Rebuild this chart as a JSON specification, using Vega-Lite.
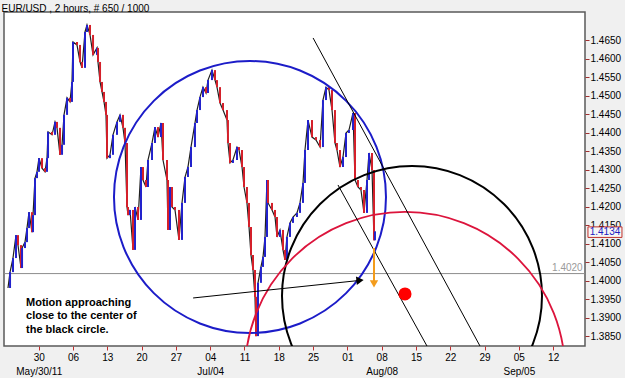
{
  "$schema": "https://vega.github.io/schema/vega-lite/v6.json",
  "width": 581,
  "height": 334,
  "autosize": {"type": "none"},
  "padding": {"left": 4, "top": 12, "right": 40, "bottom": 32},
  "background": "#f0f0f0",
  "title": {"text": "EUR/USD , 2 hours, # 650 / 1000", "anchor": "start", "fontSize": 10, "fontWeight": "normal", "font": "Liberation Sans", "color": "#000000", "offset": -2, "dx": -2},
  "config": {
    "view": {"fill": "white", "stroke": "#5a5a5a", "strokeWidth": 1.5},
    "font": "Liberation Sans"
  },
  "datasets": {
    "price": [
      {"t": -4.48, "p": 1.3981}, {"t": -4.18, "p": 1.4024}, {"t": -3.75, "p": 1.4062}, {"t": -3.31, "p": 1.4124},
      {"t": -3.02, "p": 1.4097}, {"t": -2.58, "p": 1.4035}, {"t": -2.43, "p": 1.4089}, {"t": -2.0, "p": 1.4105},
      {"t": -1.71, "p": 1.4143}, {"t": -1.41, "p": 1.4186}, {"t": -0.98, "p": 1.4132}, {"t": -0.83, "p": 1.4178},
      {"t": -0.54, "p": 1.4278}, {"t": -0.25, "p": 1.4295}, {"t": 0.04, "p": 1.4332}, {"t": 0.48, "p": 1.4305},
      {"t": 0.92, "p": 1.4295}, {"t": 1.21, "p": 1.4332}, {"t": 1.36, "p": 1.4403}, {"t": 1.94, "p": 1.4395},
      {"t": 2.38, "p": 1.443}, {"t": 2.67, "p": 1.4414}, {"t": 3.1, "p": 1.4341}, {"t": 3.4, "p": 1.4368},
      {"t": 3.69, "p": 1.4449}, {"t": 4.13, "p": 1.4495}, {"t": 4.56, "p": 1.4484}, {"t": 4.85, "p": 1.4538},
      {"t": 5.0, "p": 1.4646}, {"t": 5.58, "p": 1.4638}, {"t": 6.02, "p": 1.4592}, {"t": 6.31, "p": 1.4576},
      {"t": 6.75, "p": 1.4673}, {"t": 7.04, "p": 1.4692}, {"t": 7.48, "p": 1.4665}, {"t": 7.92, "p": 1.4611},
      {"t": 8.5, "p": 1.463}, {"t": 8.64, "p": 1.4592}, {"t": 8.94, "p": 1.4538}, {"t": 9.23, "p": 1.4511},
      {"t": 9.52, "p": 1.4484}, {"t": 9.81, "p": 1.4449}, {"t": 9.96, "p": 1.4332}, {"t": 10.39, "p": 1.4341},
      {"t": 10.83, "p": 1.4395}, {"t": 11.41, "p": 1.443}, {"t": 11.85, "p": 1.4449}, {"t": 12.29, "p": 1.4414},
      {"t": 12.58, "p": 1.4373}, {"t": 12.87, "p": 1.42}, {"t": 13.02, "p": 1.4178}, {"t": 13.31, "p": 1.4192},
      {"t": 13.75, "p": 1.4084}, {"t": 14.04, "p": 1.42}, {"t": 14.48, "p": 1.4165}, {"t": 14.91, "p": 1.4308},
      {"t": 15.2, "p": 1.4273}, {"t": 15.64, "p": 1.4254}, {"t": 15.93, "p": 1.4327}, {"t": 16.52, "p": 1.4373},
      {"t": 16.95, "p": 1.4416}, {"t": 17.39, "p": 1.4389}, {"t": 17.83, "p": 1.4427}, {"t": 18.12, "p": 1.4327},
      {"t": 18.7, "p": 1.4273}, {"t": 18.85, "p": 1.4138}, {"t": 19.14, "p": 1.4254}, {"t": 19.43, "p": 1.42},
      {"t": 19.87, "p": 1.4192}, {"t": 20.45, "p": 1.4111}, {"t": 20.89, "p": 1.4211}, {"t": 21.33, "p": 1.4281},
      {"t": 21.76, "p": 1.4308}, {"t": 22.2, "p": 1.4362}, {"t": 22.78, "p": 1.4427}, {"t": 23.08, "p": 1.4462},
      {"t": 23.51, "p": 1.4497}, {"t": 23.95, "p": 1.4524}, {"t": 24.39, "p": 1.4508}, {"t": 24.68, "p": 1.4543},
      {"t": 25.26, "p": 1.457}, {"t": 25.7, "p": 1.4543}, {"t": 25.99, "p": 1.4524}, {"t": 26.43, "p": 1.4481},
      {"t": 26.87, "p": 1.4462}, {"t": 27.45, "p": 1.4435}, {"t": 27.59, "p": 1.4373}, {"t": 27.89, "p": 1.4319},
      {"t": 28.32, "p": 1.4327}, {"t": 28.91, "p": 1.4362}, {"t": 29.2, "p": 1.4354}, {"t": 29.64, "p": 1.4308},
      {"t": 29.93, "p": 1.4254}, {"t": 30.36, "p": 1.4211}, {"t": 30.66, "p": 1.4146}, {"t": 30.95, "p": 1.407},
      {"t": 31.24, "p": 1.403}, {"t": 31.53, "p": 1.3957}, {"t": 31.68, "p": 1.3851}, {"t": 31.97, "p": 1.3995},
      {"t": 32.4, "p": 1.4038}, {"t": 32.7, "p": 1.4065}, {"t": 32.99, "p": 1.4119}, {"t": 33.28, "p": 1.4273},
      {"t": 33.43, "p": 1.4211}, {"t": 34.01, "p": 1.4192}, {"t": 34.45, "p": 1.4173}, {"t": 34.74, "p": 1.4119},
      {"t": 35.17, "p": 1.4138}, {"t": 35.61, "p": 1.4084}, {"t": 35.9, "p": 1.4057}, {"t": 36.19, "p": 1.4119},
      {"t": 36.63, "p": 1.4157}, {"t": 37.07, "p": 1.4173}, {"t": 37.65, "p": 1.4184}, {"t": 38.09, "p": 1.4211},
      {"t": 38.53, "p": 1.4265}, {"t": 38.82, "p": 1.4354}, {"t": 39.26, "p": 1.4435}, {"t": 39.84, "p": 1.4389},
      {"t": 40.42, "p": 1.4381}, {"t": 41.01, "p": 1.4362}, {"t": 41.44, "p": 1.4489}, {"t": 41.88, "p": 1.4524},
      {"t": 42.32, "p": 1.4516}, {"t": 42.76, "p": 1.4462}, {"t": 43.19, "p": 1.4373}, {"t": 43.48, "p": 1.4354},
      {"t": 43.92, "p": 1.4308}, {"t": 44.36, "p": 1.4335}, {"t": 44.8, "p": 1.44}, {"t": 45.23, "p": 1.4408},
      {"t": 45.82, "p": 1.4454}, {"t": 46.11, "p": 1.4273}, {"t": 46.54, "p": 1.4254}, {"t": 46.98, "p": 1.4246},
      {"t": 47.42, "p": 1.4184}, {"t": 47.86, "p": 1.4273}, {"t": 48.15, "p": 1.4346}, {"t": 48.59, "p": 1.43},
      {"t": 48.88, "p": 1.411}, {"t": 49.02, "p": 1.4134}
    ],
    "shapes": [
      {"name": "blue", "t": 30.8, "p": 1.4227},
      {"name": "black", "t": 54.42, "p": 1.39595},
      {"name": "red", "t": 53.4, "p": 1.37541},
      {"name": "dot", "t": 53.4, "p": 1.39649},
      {"name": "headBlack", "t": 46.84, "p": 1.40016},
      {"name": "headOrange", "t": 48.88, "p": 1.39919},
      {"name": "box", "t": 82.55, "p": 1.4132}
    ],
    "segs": [
      {"line": "A", "t": 40.0, "p": 1.46568}, {"line": "A", "t": 64.33, "p": 1.38243},
      {"line": "B", "t": 43.63, "p": 1.42595}, {"line": "B", "t": 56.6, "p": 1.38243},
      {"line": "arrow", "t": 22.51, "p": 1.39541}, {"line": "arrow", "t": 46.84, "p": 1.40016}
    ],
    "orange": [
      {"line": "orange", "t": 48.88, "p": 1.40892}, {"line": "orange", "t": 48.88, "p": 1.3996}
    ],
    "notes": [
      {"t": -1.85, "p": 1.39324, "text": "Motion approaching"},
      {"t": -1.85, "p": 1.38965, "text": "close to the center of"},
      {"t": -1.85, "p": 1.38603, "text": "the black circle."}
    ]
  },
  "layer": [
    {
      "data": {"values": [{"p": 1.402}]},
      "mark": {"type": "rule", "color": "#8c8c8c", "strokeWidth": 1},
      "encoding": {
        "y": {"field": "p", "type": "quantitative", "scale": {"domain": [1.38243, 1.4727], "nice": false, "zero": false},
          "axis": {"orient": "right", "values": [1.385, 1.39, 1.395, 1.4, 1.405, 1.41, 1.415, 1.42, 1.425, 1.43, 1.435, 1.44, 1.445, 1.45, 1.455, 1.46, 1.465],
            "tickCount": 40,
            "format": ".4f", "title": null, "grid": false, "domain": false, "tickSize": 4, "tickColor": "#a03030", "labelPadding": 1,
            "labelOverlap": false, "labelBound": false,
            "labelFontSize": 10, "labelColor": "#000000", "labelFont": "Liberation Sans"}}
      }
    },
    {
      "data": {"name": "price"},
      "mark": {"type": "line", "color": "#202020", "strokeWidth": 1.2, "clip": true},
      "encoding": {
        "x": {"field": "t", "type": "quantitative", "scale": {"domain": [-5.06, 79.64], "nice": false, "zero": false},
          "axis": {"orient": "bottom", "values": [0, 5, 10, 15, 20, 25, 30, 35, 40, 45, 50, 55, 60, 65, 70, 75],
            "tickCount": 40,
            "labelExpr": "[['30','May/30/11'],'06','13','20','27',['04','Jul/04'],'11','18','25','01',['08','Aug/08'],'15','22','29',['05','Sep/05'],'12'][round(datum.value/5)]",
            "title": null, "grid": false, "domain": false, "tickSize": 4, "tickColor": "#c03030", "labelPadding": 2,
            "labelOverlap": false, "labelBound": false,
            "labelFontSize": 10, "labelColor": "#000000", "labelFont": "Liberation Sans", "labelLineHeight": 14.5, "labelBaseline": "top"}},
        "y": {"field": "p", "type": "quantitative"}
      }
    },
    {
      "data": {"name": "price"},
      "transform": [
        {"window": [{"op": "lag", "field": "p", "as": "prev"}], "sort": [{"field": "t"}]},
        {"filter": "datum.prev != null"}
      ],
      "mark": {"type": "rule", "strokeWidth": 2, "clip": true},
      "encoding": {
        "x": {"field": "t", "type": "quantitative"},
        "y": {"field": "prev", "type": "quantitative"},
        "y2": {"field": "p"},
        "color": {"condition": {"test": "datum.p < datum.prev", "value": "#d4202a"}, "value": "#2222cc"}
      }
    },
    {
      "data": {"name": "shapes"},
      "transform": [{"filter": "datum.name == 'blue'"}],
      "mark": {"type": "point", "shape": "circle", "filled": false, "clip": true, "opacity": 1, "color": "#1c1cc8", "strokeWidth": 2},
      "encoding": {"x": {"field": "t", "type": "quantitative"}, "y": {"field": "p", "type": "quantitative"}, "size": {"value": 73984}}
    },
    {
      "data": {"name": "shapes"},
      "transform": [{"filter": "datum.name == 'black'"}],
      "mark": {"type": "point", "shape": "circle", "filled": false, "clip": true, "opacity": 1, "color": "#000000", "strokeWidth": 2},
      "encoding": {"x": {"field": "t", "type": "quantitative"}, "y": {"field": "p", "type": "quantitative"}, "size": {"value": 67600}}
    },
    {
      "data": {"name": "shapes"},
      "transform": [{"filter": "datum.name == 'red'"}],
      "mark": {"type": "point", "shape": "circle", "filled": false, "clip": true, "opacity": 1, "color": "#dc143c", "strokeWidth": 1.8},
      "encoding": {"x": {"field": "t", "type": "quantitative"}, "y": {"field": "p", "type": "quantitative"}, "size": {"value": 102400}}
    },
    {
      "data": {"name": "segs"},
      "mark": {"type": "line", "color": "#000000", "strokeWidth": 1, "clip": true},
      "encoding": {"x": {"field": "t", "type": "quantitative"}, "y": {"field": "p", "type": "quantitative"}, "detail": {"field": "line"}}
    },
    {
      "data": {"name": "orange"},
      "mark": {"type": "line", "color": "#f39c1c", "strokeWidth": 2, "clip": true},
      "encoding": {"x": {"field": "t", "type": "quantitative"}, "y": {"field": "p", "type": "quantitative"}}
    },
    {
      "data": {"name": "shapes"},
      "transform": [{"filter": "datum.name == 'headBlack'"}],
      "mark": {"type": "point", "shape": "triangle-right", "filled": true, "opacity": 1, "color": "#000000", "angle": 354},
      "encoding": {"x": {"field": "t", "type": "quantitative"}, "y": {"field": "p", "type": "quantitative"}, "size": {"value": 70}}
    },
    {
      "data": {"name": "shapes"},
      "transform": [{"filter": "datum.name == 'headOrange'"}],
      "mark": {"type": "point", "shape": "triangle-down", "filled": true, "opacity": 1, "color": "#f39c1c"},
      "encoding": {"x": {"field": "t", "type": "quantitative"}, "y": {"field": "p", "type": "quantitative"}, "size": {"value": 70}}
    },
    {
      "data": {"name": "shapes"},
      "transform": [{"filter": "datum.name == 'dot'"}],
      "mark": {"type": "point", "shape": "circle", "filled": true, "opacity": 1, "color": "#ff0000"},
      "encoding": {"x": {"field": "t", "type": "quantitative"}, "y": {"field": "p", "type": "quantitative"}, "size": {"value": 170}}
    },
    {
      "data": {"name": "notes"},
      "mark": {"type": "text", "align": "left", "baseline": "alphabetic", "fontSize": 11, "fontWeight": "bold", "font": "Liberation Sans", "color": "#000000"},
      "encoding": {"x": {"field": "t", "type": "quantitative"}, "y": {"field": "p", "type": "quantitative"}, "text": {"field": "text"}}
    },
    {
      "data": {"values": [{"t": 79.3, "p": 1.402, "text": "1.4020"}]},
      "mark": {"type": "text", "align": "right", "baseline": "bottom", "dy": -1, "fontSize": 10, "font": "Liberation Sans", "color": "#9a9a9a"},
      "encoding": {"x": {"field": "t", "type": "quantitative"}, "y": {"field": "p", "type": "quantitative"}, "text": {"field": "text"}}
    },
    {
      "data": {"name": "shapes"},
      "transform": [{"filter": "datum.name == 'box'"}],
      "mark": {"type": "point", "shape": "M-1,-0.31H1V0.31H-1Z", "filled": true, "opacity": 1, "fill": "#f6f6f6", "stroke": "#c0302a", "strokeWidth": 1},
      "encoding": {"x": {"field": "t", "type": "quantitative"}, "y": {"field": "p", "type": "quantitative"}, "size": {"value": 1156}}
    },
    {
      "data": {"values": [{"t": 82.55, "p": 1.4132, "text": "1.4134"}]},
      "mark": {"type": "text", "align": "center", "baseline": "middle", "fontSize": 10, "font": "Liberation Sans", "color": "#2020c0"},
      "encoding": {"x": {"field": "t", "type": "quantitative"}, "y": {"field": "p", "type": "quantitative"}, "text": {"field": "text"}}
    }
  ]
}
